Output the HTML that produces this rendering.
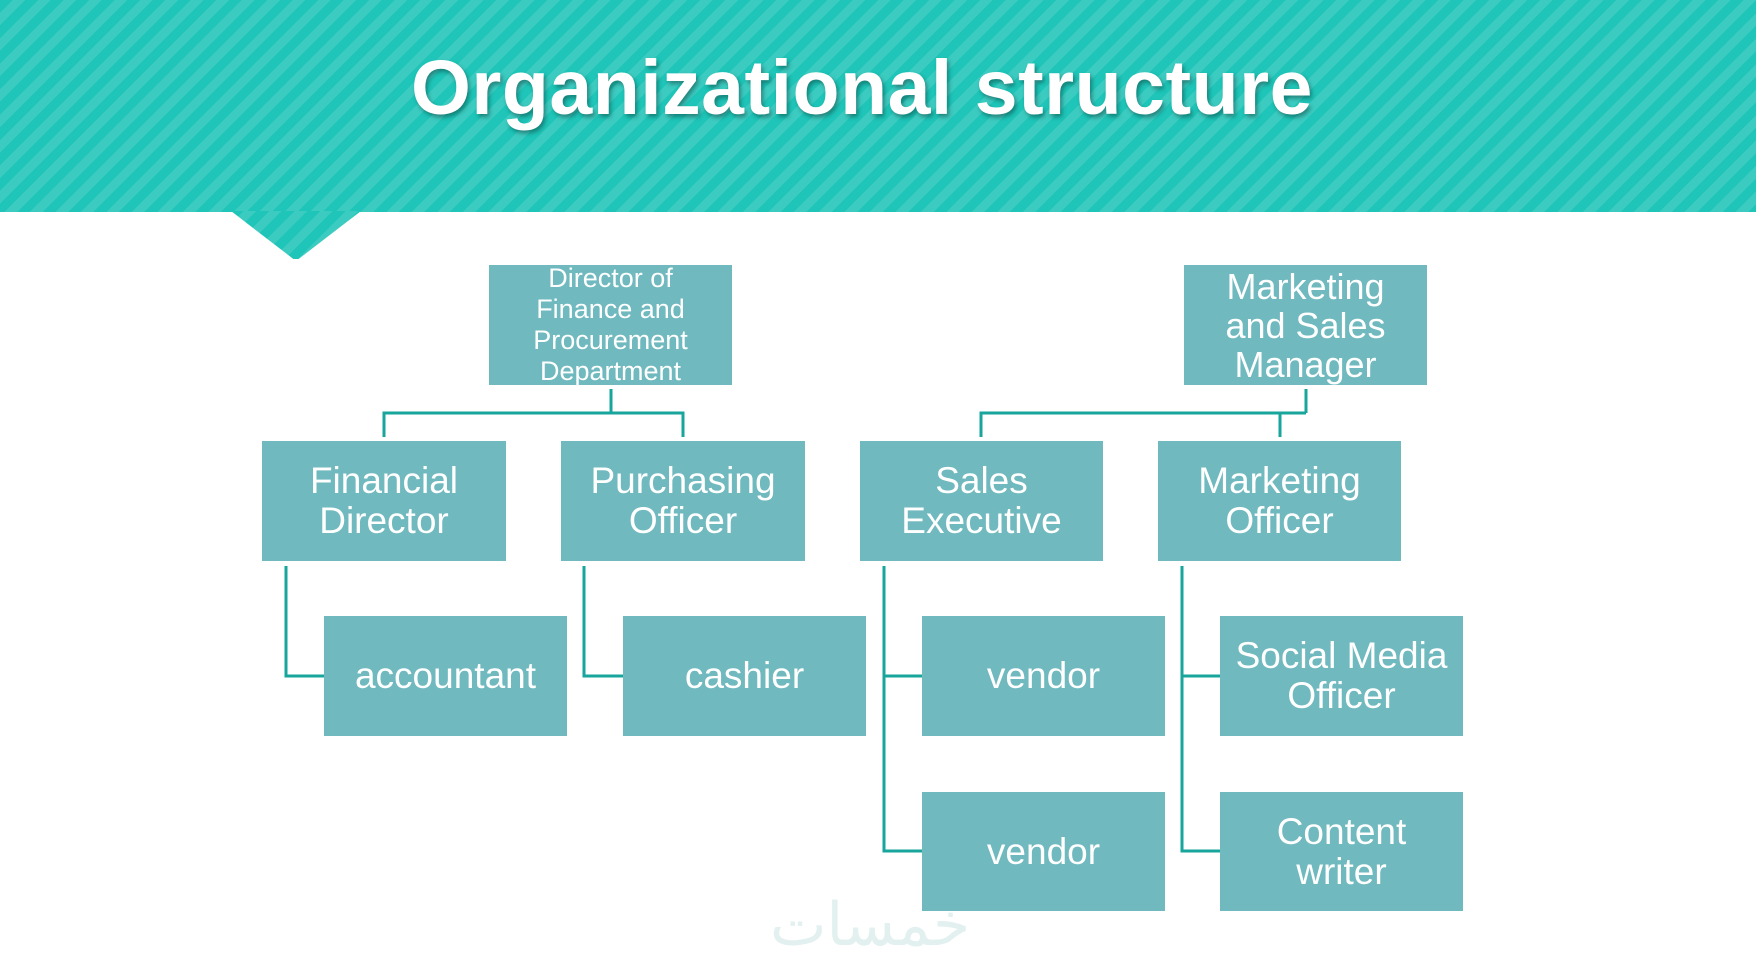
<!DOCTYPE html>
<html><head><meta charset="utf-8"><style>
html,body{margin:0;padding:0;width:1756px;height:965px;overflow:hidden;background:#fff;font-family:"Liberation Sans",sans-serif;}
.banner{position:absolute;left:0;top:0;width:1756px;height:212px;background:repeating-linear-gradient(135deg,#1ec5b8 0px,#1ec5b8 9px,#3bcbc0 9px,#3bcbc0 18px);}
.notch{position:absolute;left:231px;top:211px;width:130px;height:48px;background:repeating-linear-gradient(135deg,#1ec5b8 0px,#1ec5b8 9px,#3bcbc0 9px,#3bcbc0 18px);clip-path:polygon(0 0,100% 0,52% 100%,48% 100%);}
.title{position:absolute;left:0;top:44px;width:1724px;text-align:center;color:#fff;font-size:77px;font-weight:bold;text-shadow:2px 3px 4px rgba(0,0,0,0.35);letter-spacing:0.5px;}
.b{position:absolute;background:#6fb9bf;color:#fff;display:flex;align-items:center;justify-content:center;text-align:center;font-size:37px;line-height:40px;box-sizing:border-box;}
.wm{position:absolute;left:770px;top:890px;font-size:60px;color:#e3f0f0;font-family:"DejaVu Sans",sans-serif;}
</style></head><body>
<div class="banner"></div><div class="notch"></div>
<div class="title">Organizational structure</div>
<svg width="1756" height="965" style="position:absolute;left:0;top:0" fill="none" stroke="#17a59c" stroke-width="3">
<path d="M611 389V413M384 437V413H683V437"/>
<path d="M1306 389V413M981 437V413H1306M1280 413V437"/>
<path d="M286 566V676H324"/>
<path d="M584 566V676H623"/>
<path d="M884 566V851H922M884 676H922"/>
<path d="M1182 566V851H1220M1182 676H1220"/>
</svg>
<div class="b" style="left:489px;top:265px;width:243px;height:120px;font-size:27px;line-height:31px;">Director of<br>Finance and<br>Procurement<br>Department</div>
<div class="b" style="left:1184px;top:265px;width:243px;height:120px;font-size:36px;line-height:39px;">Marketing<br>and Sales<br>Manager</div>
<div class="b" style="left:262px;top:441px;width:244px;height:120px;">Financial<br>Director</div>
<div class="b" style="left:561px;top:441px;width:244px;height:120px;">Purchasing<br>Officer</div>
<div class="b" style="left:860px;top:441px;width:243px;height:120px;">Sales<br>Executive</div>
<div class="b" style="left:1158px;top:441px;width:243px;height:120px;">Marketing<br>Officer</div>
<div class="b" style="left:324px;top:616px;width:243px;height:120px;">accountant</div>
<div class="b" style="left:623px;top:616px;width:243px;height:120px;">cashier</div>
<div class="b" style="left:922px;top:616px;width:243px;height:120px;">vendor</div>
<div class="b" style="left:1220px;top:616px;width:243px;height:120px;">Social Media<br>Officer</div>
<div class="b" style="left:922px;top:792px;width:243px;height:119px;">vendor</div>
<div class="b" style="left:1220px;top:792px;width:243px;height:119px;">Content<br>writer</div>
<div class="wm">خمسات</div>
</body></html>
